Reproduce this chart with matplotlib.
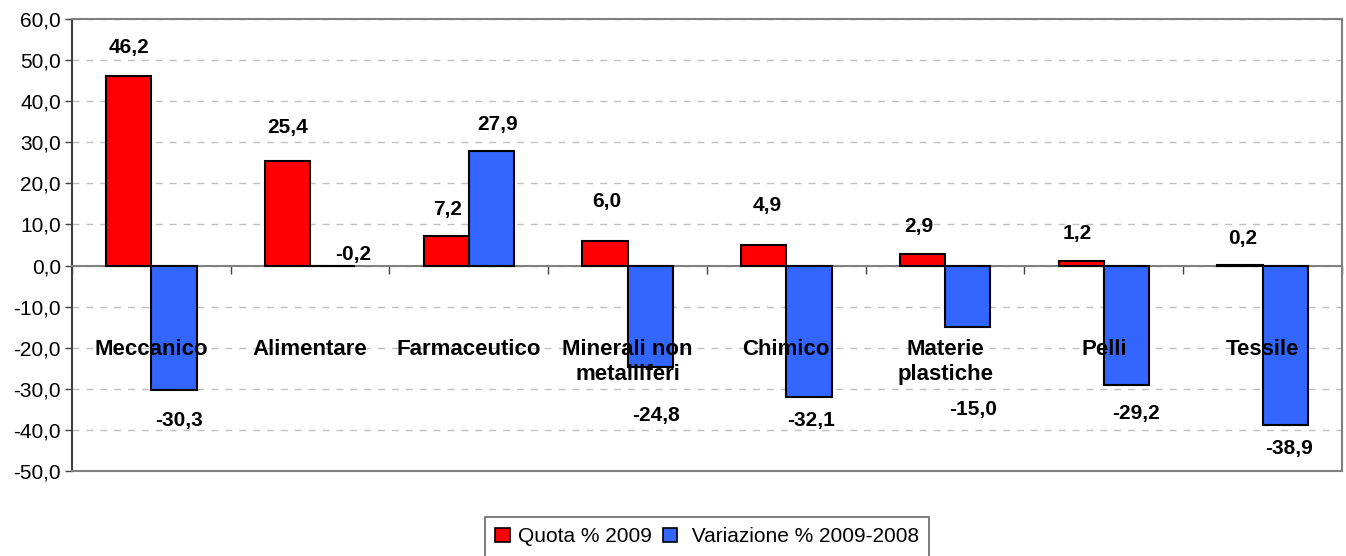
import matplotlib
matplotlib.use("Agg")
import matplotlib.pyplot as plt
from matplotlib.ticker import FuncFormatter, MultipleLocator
from matplotlib.patches import Patch
import numpy as np

plt.rcParams["font.family"] = ["Liberation Sans", "DejaVu Sans"]

CATEGORIES = ["Meccanico", "Alimentare", "Farmaceutico", "Minerali non\nmetalliferi",
              "Chimico", "Materie\nplastiche", "Pelli", "Tessile"]
QUOTA_2009 = [46.2, 25.4, 7.2, 6.0, 4.9, 2.9, 1.2, 0.2]
VARIAZIONE = [-30.3, -0.2, 27.9, -24.8, -32.1, -15.0, -29.2, -38.9]

# where the value labels sit (data units), as placed in the original chart
RED_LABEL_Y = [53.2, 33.7, 13.7, 15.6, 14.6, 9.5, 7.8, 6.6]
BLUE_LABEL_Y = [-37.8, 2.7, 34.4, -36.6, -37.8, -35.1, -36.1, -44.6]
RED_LABEL_DX = [0, 0, 1, 2, 3, -4, -4, 3]      # pixels
BLUE_LABEL_DX = [5, 20, 6, 6, 2, 5, 10, 4]     # pixels

RED = "#FF0000"
BLUE = "#3366FF"


def fmt(v):
    return f"{v:.1f}".replace(".", ",")


fig = plt.figure(figsize=(13.46, 5.56), dpi=100)
ax = fig.add_axes([0.0535, 0.1534, 0.9435, 0.8119])

x = np.arange(len(CATEGORIES))
w = 0.285
ax.bar(x - w / 2, QUOTA_2009, w, color=RED, edgecolor="black", linewidth=1.5, zorder=3)
ax.bar(x + w / 2, VARIAZIONE, w, color=BLUE, edgecolor="black", linewidth=1.5, zorder=3)

ax.set_xlim(-0.5, len(CATEGORIES) - 0.5)
ax.set_ylim(-50, 60)
ax.yaxis.set_major_locator(MultipleLocator(10))
ax.yaxis.set_major_formatter(FuncFormatter(lambda v, p: fmt(v)))
ax.tick_params(axis="y", labelsize=15, length=5, width=1, color="#404040", pad=3)
ax.grid(axis="y", color="#c0c0c0", linestyle=(0, (5, 5)), linewidth=1, zorder=0)

# x axis runs along zero, ticks at category boundaries
ax.spines["bottom"].set_position(("data", 0))
ax.spines["bottom"].set_color("#808080")
ax.spines["bottom"].set_linewidth(1.5)
ax.set_xticks(np.arange(-0.5, len(CATEGORIES), 1.0))
ax.set_xticklabels([])
ax.tick_params(axis="x", length=6, width=1, color="#404040", direction="out")
ax.spines["left"].set_color("#404040")
ax.spines["left"].set_linewidth(1.5)
for s in ("top", "right"):
    ax.spines[s].set_color("#808080")
    ax.spines[s].set_linewidth(1.5)
ax.plot([0, 1], [0, 0], transform=ax.transAxes, color="#808080", lw=1.5,
        clip_on=False, zorder=5)

for i in x:
    ax.annotate(fmt(QUOTA_2009[i]), xy=(i - w / 2, RED_LABEL_Y[i]),
                xytext=(RED_LABEL_DX[i] * 0.72, 0), textcoords="offset points",
                ha="center", va="center", fontsize=15, fontweight="bold", zorder=6)
    ax.annotate(fmt(VARIAZIONE[i]), xy=(i + w / 2, BLUE_LABEL_Y[i]),
                xytext=(BLUE_LABEL_DX[i] * 0.72, 0), textcoords="offset points",
                ha="center", va="center", fontsize=15, fontweight="bold", zorder=6)
    ax.text(i, -18.0, CATEGORIES[i], ha="center", va="top", fontsize=16,
            fontweight="bold", linespacing=1.25, zorder=6)

handles = [Patch(facecolor=RED, edgecolor="black", linewidth=1.2),
           Patch(facecolor=BLUE, edgecolor="black", linewidth=1.2)]
leg = fig.legend(handles, ["Quota % 2009", " Variazione % 2009-2008"],
                 loc="upper center", bbox_to_anchor=(0.5253, 1 - 517 / 556),
                 ncol=2, fontsize=15, frameon=True, fancybox=False,
                 handlelength=0.7, handleheight=0.7, handletextpad=0.4,
                 columnspacing=0.5, borderpad=0.5, borderaxespad=0)
leg.get_frame().set_edgecolor("#404040")
leg.get_frame().set_linewidth(1.2)

fig.savefig("out.png", dpi=100)
